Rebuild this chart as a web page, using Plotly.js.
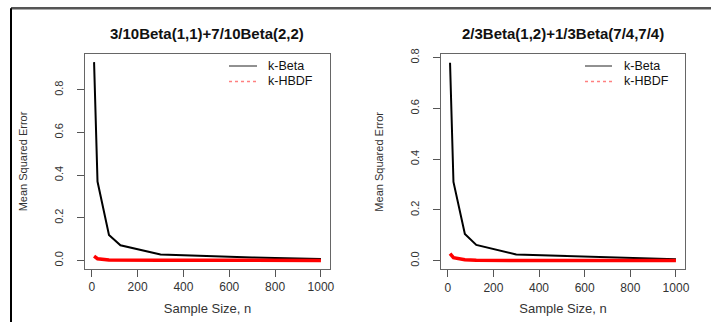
<!DOCTYPE html>
<html>
<head>
<meta charset="utf-8">
<script src="https://cdn.plot.ly/plotly-3.0.1.min.js"></script>
<style>html,body{margin:0;padding:0;background:#fff;}#chart{width:711px;height:322px;}</style>
</head>
<body>
<div id="chart"></div>
<script>
// ---- data ----
const sampleSizes = [10, 25, 75, 125, 300, 400, 500, 600, 700, 800, 900, 1000];

const titleLeft = "3/10Beta(1,1)+7/10Beta(2,2)";
const kBetaLeft = [0.93, 0.37, 0.12, 0.071, 0.028, 0.024, 0.020, 0.017, 0.014, 0.012, 0.009, 0.007];
const kHbdfLeft = [0.020, 0.008, 0.002, 0.001, 0.0008, 0.0006, 0.0005, 0.0004, 0.0004, 0.0003, 0.0003, 0.0003];

const titleRight = "2/3Beta(1,2)+1/3Beta(7/4,7/4)";
const kBetaRight = [0.78, 0.31, 0.105, 0.062, 0.024, 0.021, 0.018, 0.015, 0.012, 0.010, 0.008, 0.006];
const kHbdfRight = [0.028, 0.012, 0.004, 0.0015, 0.001, 0.0008, 0.0007, 0.0006, 0.0005, 0.0005, 0.0004, 0.0004];

const seriesNames = ["k-Beta", "k-HBDF"];
const xTickVals = [0, 200, 400, 600, 800, 1000];
const yTickVals = [0, 0.2, 0.4, 0.6, 0.8];
const yTickText = ["0.0", "0.2", "0.4", "0.6", "0.8"];
const xTitle = "Sample Size, n";
const yTitle = "Mean Squared Error";

// ---- figure ----
const W = 711, H = 322;
const FONT = "Liberation Sans, Arial, sans-serif";
const px = v => v / W, py = v => 1 - v / H;
const BLACK = "#000", RED = "#ff0000", KEY_BLACK = "#222", KEY_RED = "#ff8080";

function lineTrace(y, xa, ya, color, width, name) {
  return {x: sampleSizes, y: y, xaxis: xa, yaxis: ya, type: "scatter", mode: "lines",
          line: {color: color, width: width}, name: name, showlegend: false, hoverinfo: "skip"};
}

const data = [
  lineTrace(kBetaLeft, "x", "y", BLACK, 2, seriesNames[0]),
  lineTrace(kHbdfLeft, "x", "y", RED, 3.5, seriesNames[1]),
  lineTrace(kBetaRight, "x2", "y2", BLACK, 2, seriesNames[0]),
  lineTrace(kHbdfRight, "x2", "y2", RED, 3.5, seriesNames[1])
];

function xAxis(domain, anchor) {
  return {domain: domain, anchor: anchor, range: [-29.6, 1039.6], tickvals: xTickVals,
          ticks: "outside", ticklen: 7, tickcolor: "#555", tickwidth: 1,
          showline: true, mirror: true, linecolor: "#666", linewidth: 1,
          showgrid: false, zeroline: false, fixedrange: true,
          tickfont: {family: FONT, size: 12, color: "#333"},
          title: {text: xTitle, font: {family: FONT, size: 13, color: "#333"}, standoff: 10}};
}
function yAxis(domain, anchor, range) {
  return {domain: domain, anchor: anchor, range: range, tickvals: yTickVals, ticktext: yTickText,
          tickangle: -90, ticks: "outside", ticklen: 7, tickcolor: "#555", tickwidth: 1,
          ticklabelstandoff: 10,
          showline: true, mirror: true, linecolor: "#666", linewidth: 1,
          showgrid: false, zeroline: false, fixedrange: true,
          tickfont: {family: FONT, size: 11, color: "#333"},
          title: {text: yTitle, font: {family: FONT, size: 11, color: "#333"}, standoff: 22}};
}

// key (legend) drawn as text + sample lines, positioned like R's legend(bty="n")
function key(lineX0, lineX1, textX, rowY) {
  const items = [
    {name: seriesNames[0], color: KEY_BLACK, dash: "solid", width: 1},
    {name: seriesNames[1], color: KEY_RED, dash: "dot", width: 1.3}
  ];
  const shapes = [], ann = [];
  items.forEach((it, i) => {
    shapes.push({type: "line", xref: "paper", yref: "paper", x0: px(lineX0), x1: px(lineX1),
                 y0: py(rowY[i]), y1: py(rowY[i]), line: {color: it.color, width: it.width, dash: it.dash}});
    ann.push({text: it.name, x: px(textX), y: py(rowY[i]), xref: "paper", yref: "paper",
              xanchor: "left", yanchor: "middle", showarrow: false, borderpad: 0,
              font: {family: FONT, size: 12.5, color: "#111"}});
  });
  return {shapes, ann};
}
const keyL = key(229, 257, 267, [66, 81.5]);
const keyR = key(585, 612, 623, [66, 81.5]);

const layout = {
  width: W, height: H,
  margin: {l: 0, r: 0, t: 0, b: 0},
  paper_bgcolor: "#fff", plot_bgcolor: "#fff",
  showlegend: false,
  xaxis: xAxis([px(85), px(330)], "y"),
  yaxis: yAxis([py(269), py(54)], "x", [-0.04, 0.968]),
  xaxis2: xAxis([px(441), px(685)], "y2"),
  yaxis2: yAxis([py(269.3), py(54.3)], "x2", [-0.034, 0.813]),
  annotations: [
    {text: "<b>" + titleLeft + "</b>", x: px(206.7), y: py(33.3), xref: "paper", yref: "paper",
     xanchor: "center", yanchor: "middle", showarrow: false, font: {family: FONT, size: 15, color: "#111"}},
    {text: "<b>" + titleRight + "</b>", x: px(562.8), y: py(33.3), xref: "paper", yref: "paper",
     xanchor: "center", yanchor: "middle", showarrow: false, font: {family: FONT, size: 15, color: "#111"}}
  ].concat(keyL.ann, keyR.ann),
  shapes: [
    {type: "line", xref: "paper", yref: "paper", x0: px(11), x1: 1, y0: py(8.3), y1: py(8.3),
     line: {color: "#555", width: 2.5}},
    {type: "line", xref: "paper", yref: "paper", x0: px(11), x1: px(11), y0: 0, y1: py(8.3),
     line: {color: "#000", width: 2}}
  ].concat(keyL.shapes, keyR.shapes)
};

Plotly.newPlot("chart", data, layout, {displayModeBar: false, staticPlot: true});
</script>
</body>
</html>
